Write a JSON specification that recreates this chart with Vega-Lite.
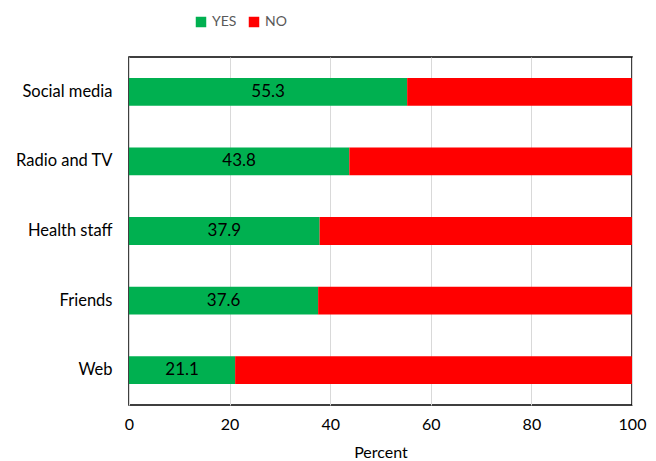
{
  "$schema": "https://vega.github.io/schema/vega-lite/v6.json",
  "autosize": "none",
  "width": 503,
  "height": 348,
  "padding": {"left": 129, "top": 57, "right": 24, "bottom": 56},
  "config": {
    "font": "Lato",
    "view": {"stroke": "black", "strokeWidth": 1.5},
    "axis": {"labelFont": "Lato", "titleFont": "Lato", "labelColor": "black", "titleColor": "black"}
  },
  "data": {
    "values": [
      {"source": "Social media", "answer": "YES", "value": 55.3, "ord": 1},
      {"source": "Social media", "answer": "NO", "value": 44.7, "ord": 2},
      {"source": "Radio and TV", "answer": "YES", "value": 43.8, "ord": 1},
      {"source": "Radio and TV", "answer": "NO", "value": 56.2, "ord": 2},
      {"source": "Health staff", "answer": "YES", "value": 37.9, "ord": 1},
      {"source": "Health staff", "answer": "NO", "value": 62.1, "ord": 2},
      {"source": "Friends", "answer": "YES", "value": 37.6, "ord": 1},
      {"source": "Friends", "answer": "NO", "value": 62.4, "ord": 2},
      {"source": "Web", "answer": "YES", "value": 21.1, "ord": 1},
      {"source": "Web", "answer": "NO", "value": 78.9, "ord": 2}
    ]
  },
  "encoding": {
    "y": {
      "field": "source", "type": "nominal",
      "sort": ["Social media", "Radio and TV", "Health staff", "Friends", "Web"],
      "scale": {"paddingInner": 0.6, "paddingOuter": 0.3},
      "axis": {"title": null, "ticks": false, "domain": false, "labelFontSize": 16.5, "labelPadding": 17}
    }
  },
  "layer": [
    {
      "mark": {"type": "bar"},
      "encoding": {
        "x": {
          "field": "value", "type": "quantitative", "stack": "zero",
          "scale": {"domain": [0, 100]},
          "axis": {"title": "Percent", "titleFontSize": 16, "titleFontWeight": "normal", "titlePadding": 12,
                   "values": [0, 20, 40, 60, 80, 100], "ticks": false, "domain": false, "labelFlush": false,
                   "labelFontSize": 16, "labelPadding": 11, "grid": true, "gridColor": "#d9d9d9"}
        },
        "color": {
          "field": "answer", "type": "nominal",
          "scale": {"domain": ["YES", "NO"], "range": ["#00b050", "#ff0000"]},
          "legend": {"title": null, "orient": "none", "direction": "horizontal", "legendX": 65, "legendY": -42,
                     "symbolType": "square", "symbolSize": 110, "labelFontSize": 14, "labelColor": "#595959",
                     "symbolStrokeWidth": 0, "labelOffset": 4, "columnPadding": 10}
        },
        "order": {"field": "ord", "type": "quantitative"}
      }
    },
    {
      "transform": [{"filter": "datum.answer == 'YES'"}, {"calculate": "datum.value / 2", "as": "mid"}],
      "mark": {"type": "text", "fontSize": 17, "color": "black", "font": "Lato"},
      "encoding": {
        "x": {"field": "mid", "type": "quantitative"},
        "text": {"field": "value", "type": "quantitative", "format": ".1f"}
      }
    }
  ]
}
